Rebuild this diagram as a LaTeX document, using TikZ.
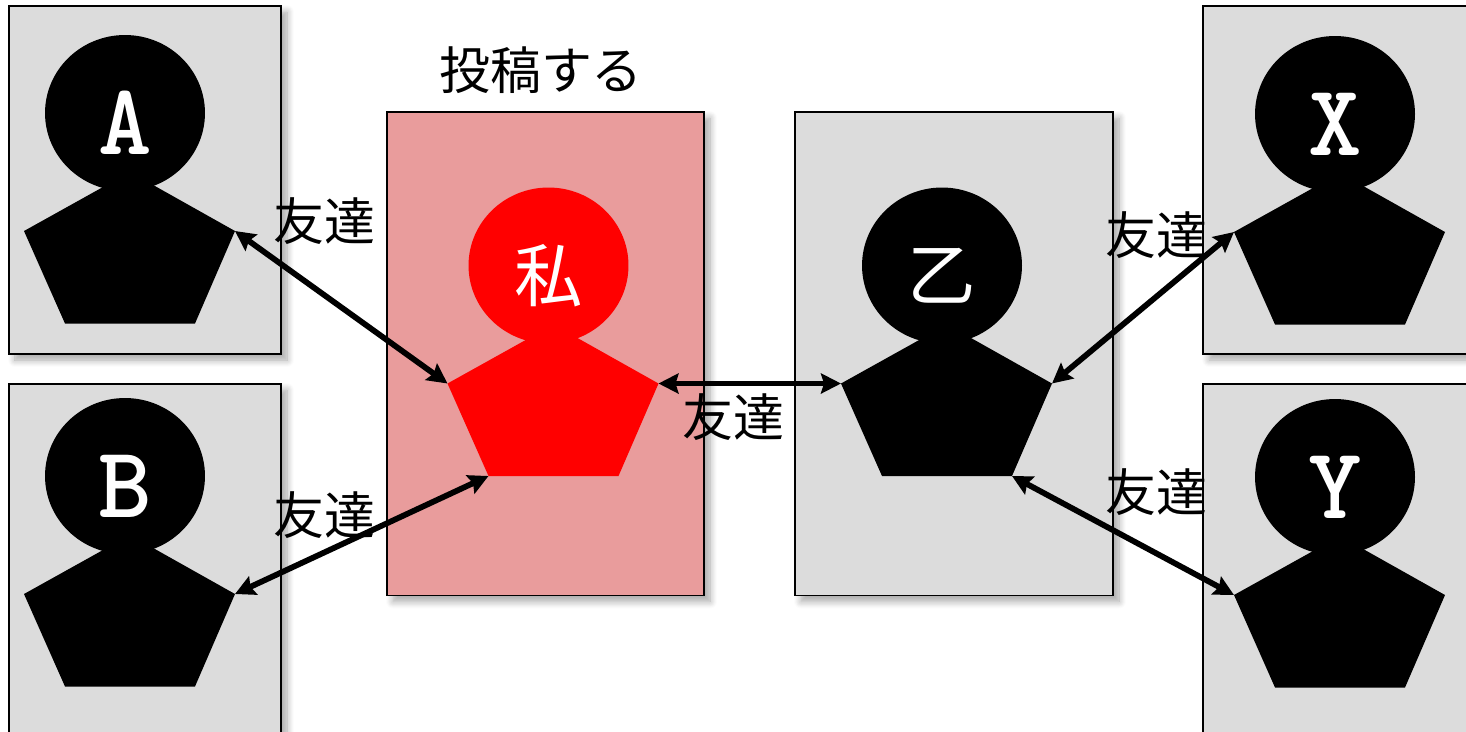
\documentclass[tikz,border=0pt]{standalone}
\usepackage{fontspec}
\setmainfont{Noto Sans CJK JP}
\usetikzlibrary{arrows.meta,shadows.blur,shapes.geometric}
\definecolor{boxgray}{RGB}{220,220,220}
\definecolor{boxpink}{RGB}{233,156,156}
\tikzset{
	panel/.style={draw=black,line width=0.9pt,blur shadow={shadow xshift=1.2mm,shadow yshift=-1.2mm,shadow blur radius=1.4mm,shadow blur steps=8,shadow opacity=35}},
	friend/.style={{Stealth[length=4mm,width=4mm,inset=0.6mm]}-{Stealth[length=4mm,width=4mm,inset=0.6mm]},line width=1.15mm},
	jptext/.style={font=\fontsize{29}{29}\selectfont,inner sep=0pt},
	headtext/.style={font=\fontsize{39}{39}\selectfont,inner sep=0pt,text=white},
	latintext/.style={font=\fontsize{58}{58}\selectfont\ttfamily\bfseries,inner sep=0pt,text=white}
}
% head, its name, body under it
\newcommand{\person}[6]{
	\fill[#4] (#2+5,#3+57) -- (#2+110,#3+116) -- (#2+70,#3+208.5) -- (#2-60,#3+208.5) -- (#2-101,#3+116) -- cycle;
	\coordinate (#1r) at (#2+110,#3+116);
	\coordinate (#1l) at (#2-101,#3+116);
	\coordinate (#1b) at (#2+70,#3+208.5);
	\coordinate (#1c) at (#2-60,#3+208.5);
	\node[ellipse,fill=#4,minimum width=3.2cm,minimum height=3.12cm,inner sep=0pt] (#1) at (#2,#3-2) {};
	\node[#6] (#1name) at (#2,#3+8) {#5};
}
\begin{document}
\begin{tikzpicture}[x=0.02cm,y=-0.02cm]
	\useasboundingbox (0,0) rectangle (1466,731);
	\begin{scope}
	\clip (0,0) rectangle (1466,731);
	\draw[panel,fill=boxgray] (9,6) rectangle (281,354);
	\draw[panel,fill=boxgray] (9,384) rectangle (281,760);
	\draw[panel,fill=boxpink] (387,112) rectangle (704,595.5);
	\draw[panel,fill=boxgray] (795,112) rectangle (1113,595.5);
	\draw[panel,fill=boxgray] (1203,6) rectangle (1500,354);
	\draw[panel,fill=boxgray] (1203,384) rectangle (1500,760);
	\end{scope}

	\person{a}{125}{115}{black}{A}{latintext}
	\person{b}{125}{478}{black}{B}{latintext}
	\person{me}{548.5}{267.5}{red}{私}{headtext}
	\person{z}{942}{267.5}{black}{乙}{headtext}
	\person{x}{1335}{116}{black}{X}{latintext}
	\person{y}{1335}{479}{black}{Y}{latintext}

	\draw[friend] (ar) -- (mel);
	\draw[friend] (br) -- (mec);
	\draw[friend] (mer) -- (zl);
	\draw[friend] (zr) -- (xl);
	\draw[friend] (zb) -- (yl);

	\node[jptext] (post) at (541,70) {投稿する};
	\node[jptext] (fa) at (324,221) {友達};
	\node[jptext] (fb) at (324,515) {友達};
	\node[jptext] (fz) at (733,417) {友達};
	\node[jptext] (fx) at (1156,235) {友達};
	\node[jptext] (fy) at (1156,492) {友達};
\end{tikzpicture}
\end{document}
